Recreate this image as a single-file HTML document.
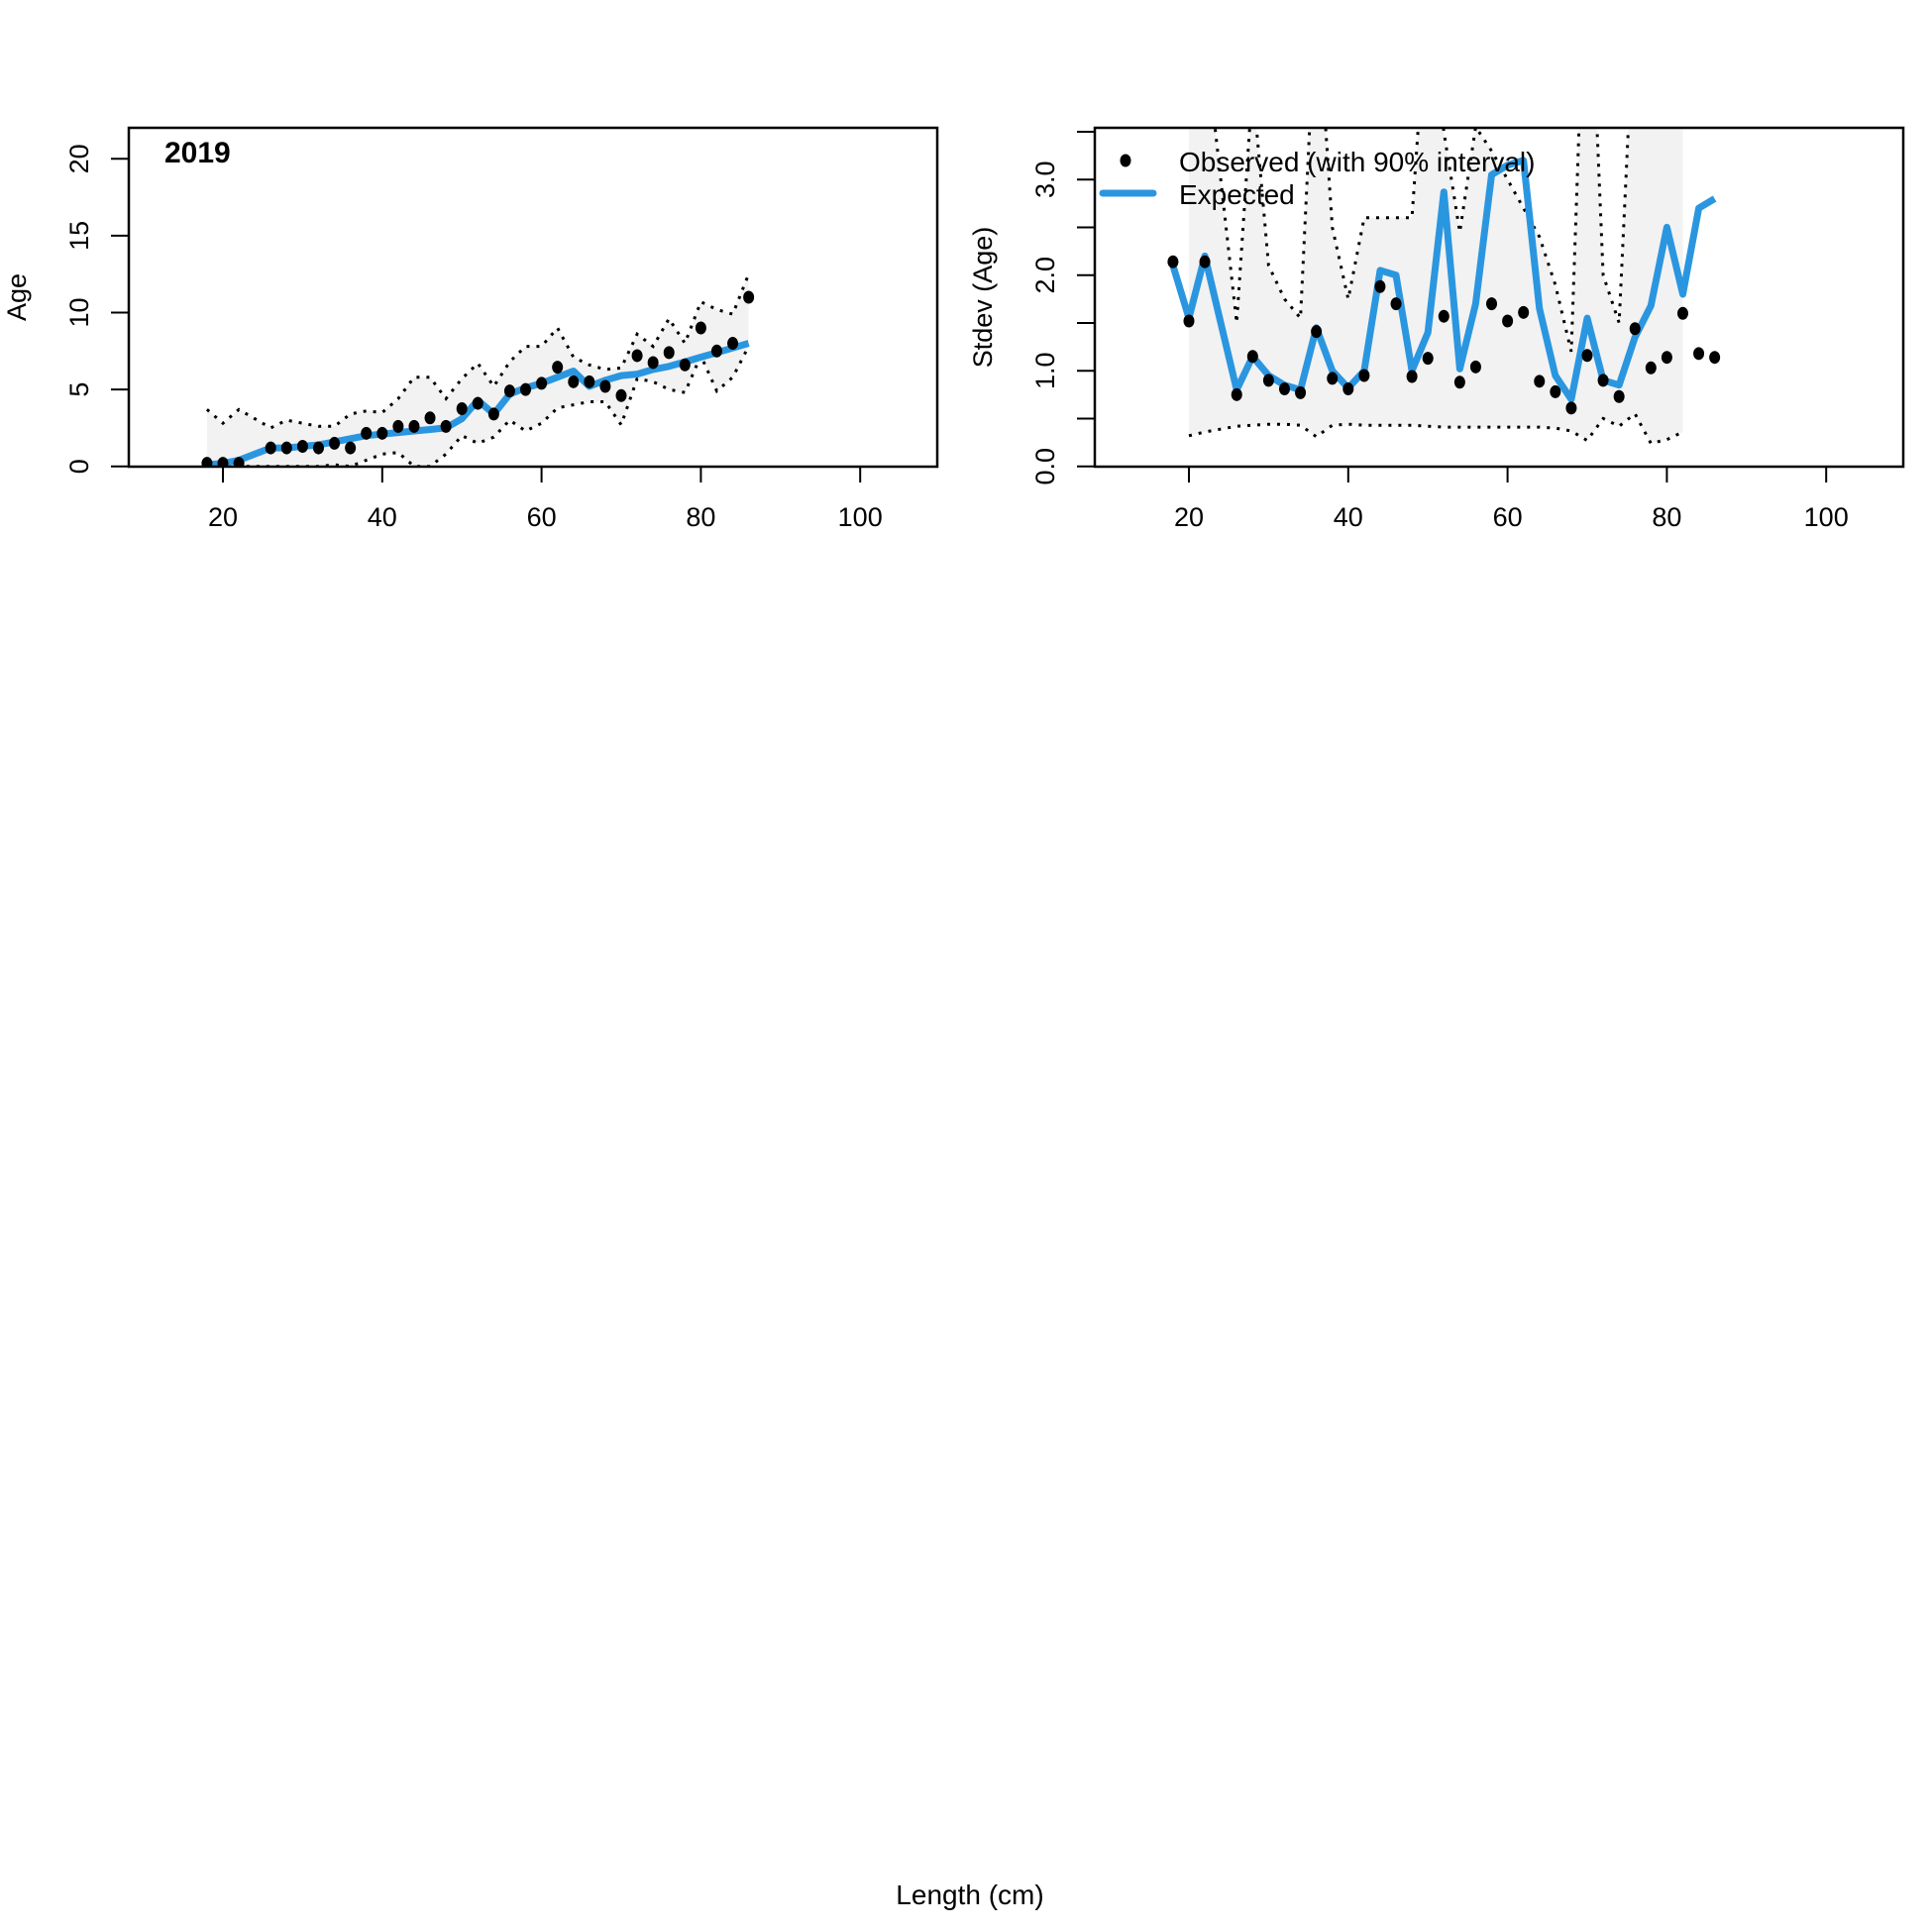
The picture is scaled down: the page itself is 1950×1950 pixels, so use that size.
<!DOCTYPE html>
<html><head><meta charset="utf-8"><style>
html,body{margin:0;padding:0;background:#fff;}
svg{display:block;font-family:"Liberation Sans",Arial,sans-serif;}
</style></head><body>
<svg id="s" width="1950" height="1950">
<text x="979" y="1922" font-size="28" text-anchor="middle">Length (cm)</text>
</svg>
<script>
const lengths=[18,20,22,26,28,30,32,34,36,38,40,42,44,46,48,50,52,54,56,58,60,62,64,66,68,70,72,74,76,78,80,82,84,86];
const ageObs=[0.2,0.2,0.2,1.2,1.2,1.3,1.2,1.5,1.2,2.15,2.15,2.6,2.6,3.15,2.6,3.75,4.1,3.4,4.9,5.0,5.4,6.45,5.5,5.5,5.2,4.6,7.2,6.75,7.4,6.6,9.0,7.5,8.0,11.0];
const ageExp=[0.1,0.2,0.4,1.2,1.2,1.3,1.4,1.6,1.8,2.0,2.1,2.2,2.3,2.4,2.5,3.1,4.3,3.4,4.7,5.1,5.4,5.8,6.2,5.2,5.6,5.9,6.0,6.3,6.5,6.8,7.1,7.4,7.7,8.0];
const ageUp=[3.7,2.8,3.7,2.5,3.0,2.8,2.6,2.6,3.4,3.6,3.5,4.4,5.8,5.8,4.4,5.7,6.7,5.2,6.8,7.8,7.8,9.0,7.1,6.6,6.3,6.4,8.6,7.8,9.6,8.0,10.7,10.2,9.9,12.5];
const ageLo=[0,0,0,0,0,0,0,0.1,0,0.4,0.8,0.9,0,0,0.8,2.0,1.5,1.9,3.0,2.3,2.8,3.8,4.0,4.2,4.2,2.7,5.7,5.5,5.0,4.8,7.2,4.9,5.8,7.8];
const sdObs=[2.14,1.52,2.14,0.75,1.15,0.9,0.81,0.77,1.41,0.92,0.81,0.95,1.88,1.70,0.94,1.13,1.57,0.88,1.04,1.70,1.52,1.61,0.89,0.78,0.61,1.16,0.9,0.73,1.44,1.03,1.14,1.60,1.18,1.14];
const sdExp=[2.1,1.55,2.2,0.8,1.15,0.95,0.85,0.8,1.45,1.0,0.82,1.0,2.05,2.0,1.0,1.4,2.87,1.02,1.7,3.05,3.15,3.2,1.65,0.95,0.7,1.55,0.9,0.85,1.35,1.68,2.5,1.8,2.7,2.8];
const sdLen=[20,22,26,28,30,32,34,36,38,40,42,44,46,48,50,52,54,56,58,60,62,64,66,68,70,72,74,76,78,80,82];
const sdUp=[6,4.5,1.5,4,2.1,1.75,1.55,5,2.5,1.75,2.6,2.6,2.6,2.6,5,3.5,2.45,3.55,3.3,3.0,2.7,2.4,1.9,1.2,6,2.0,1.5,5,6,6,6];
const sdLo=[0.32,0.36,0.42,0.43,0.44,0.44,0.43,0.31,0.43,0.44,0.43,0.43,0.43,0.43,0.42,0.41,0.41,0.41,0.41,0.41,0.41,0.41,0.40,0.37,0.27,0.5,0.42,0.55,0.24,0.28,0.36];
const xTicks=[20,40,60,80,100];
const ageTicks=[0,5,10,15,20];
const sdTicks=[0,0.5,1,1.5,2,2.5,3,3.5];
const sdLabels=["0.0","","1.0","","2.0","","3.0",""];

const NS="http://www.w3.org/2000/svg";
const svg=document.getElementById('s');
function mk(tag,attrs,parent){const e=document.createElementNS(NS,tag);for(const k in attrs)e.setAttribute(k,attrs[k]);(parent||svg).appendChild(e);return e;}
const BLUE="#2b96e0";
const FS=27;

function panel(ox,name,yfun,ticks,labels){
  const L=ox+130,R=ox+946,T=129,B=471;
  const xs=v=>ox+225+(v-20)*8.04;
  const g=mk('g',{});
  
  
  const cid='clip'+ox;
  const cp=mk('clipPath',{id:cid},g);mk('rect',{x:L,y:T,width:R-L,height:B-T},cp);
  const pg=mk('g',{'clip-path':'url(#'+cid+')'},g);
  return {g,pg,xs,L,R,T,B,yfun,ticks,labels};
}
function axes(p,ylabName,ylab){
  const {g,xs,L,R,T,B,yfun}=p;
  const r=mk('rect',{x:L,y:T,width:R-L,height:B-T,fill:'none',stroke:'#000','stroke-width':2.5},g);
  
  xTicks.forEach(t=>{const x=xs(t);
    mk('line',{x1:x,x2:x,y1:B,y2:B+16,stroke:'#000','stroke-width':2},g);
    const tx=mk('text',{x:x,y:B+60,'font-size':FS,'text-anchor':'middle'},g);tx.textContent=t;
    });
  p.ticks.forEach((t,i)=>{const y=yfun(t);
    mk('line',{x1:L-18,x2:L,y1:y,y2:y,stroke:'#000','stroke-width':2},g);
    const lb=p.labels[i];if(lb!==''){
      const tx=mk('text',{x:L-50,y:y,'font-size':FS,'text-anchor':'middle',transform:`rotate(-90 ${L-50} ${y})`,dy:9},g);
      tx.textContent=lb;}});
  const cx=L-113,cy=(T+B)/2;
  const yl=mk('text',{x:cx,y:cy,'font-size':FS,'text-anchor':'middle',transform:`rotate(-90 ${cx} ${cy})`,dy:9},g);
  yl.textContent=ylab;
}
function poly(p,lx,vals){return lx.map((l,i)=>p.xs(l).toFixed(1)+','+p.yfun(vals[i]).toFixed(1)).join(' ');}
function draw(p,lx,obs,exp,ilx,up,lo){
  const sh=mk('polygon',{points:poly(p,ilx,up)+' '+poly(p,ilx.slice().reverse(),lo.slice().reverse()),fill:'#f2f2f2',stroke:'none'},p.pg);
  
  [up,lo].forEach((v,k)=>{const l=mk('polyline',{points:poly(p,ilx,v),fill:'none',stroke:'#000','stroke-width':3,'stroke-dasharray':'3 7'},p.pg);
    });
  const el=mk('polyline',{points:poly(p,lx,exp),fill:'none',stroke:BLUE,'stroke-width':7,'stroke-linejoin':'round'},p.pg);
  
  lx.forEach((l,i)=>{const c=mk('ellipse',{cx:p.xs(l),cy:p.yfun(obs[i]),rx:5.5,ry:6.5,fill:'#000'},p.pg);
    });
}
const p1=panel(0,'age-panel',v=>470.7-v*15.52,ageTicks,ageTicks.map(String));
draw(p1,lengths,ageObs,ageExp,lengths,ageUp,ageLo);
axes(p1,'y-axis-title','Age');
const yr=mk('text',{x:166,y:164,'font-size':30,'font-weight':'bold'},p1.g);yr.textContent='2019';


const p2=panel(975,'stdev-panel',v=>470.7-v*96.5,sdTicks,sdLabels);
draw(p2,lengths,sdObs,sdExp,sdLen,sdUp,sdLo);
axes(p2,'stdev-axis-title','Stdev (Age)');
const lg=mk('g',{},p2.g);
mk('ellipse',{cx:1136,cy:162,rx:5.5,ry:6.5,fill:'#000'},lg);
const t1=mk('text',{x:1190,y:173,'font-size':28},lg);t1.textContent='Observed (with 90% interval)';

mk('line',{x1:1113,x2:1164,y1:195,y2:195,stroke:BLUE,'stroke-width':7,'stroke-linecap':'round'},lg);
const t2=mk('text',{x:1190,y:206,'font-size':28},lg);t2.textContent='Expected';

</script>
</body></html>
